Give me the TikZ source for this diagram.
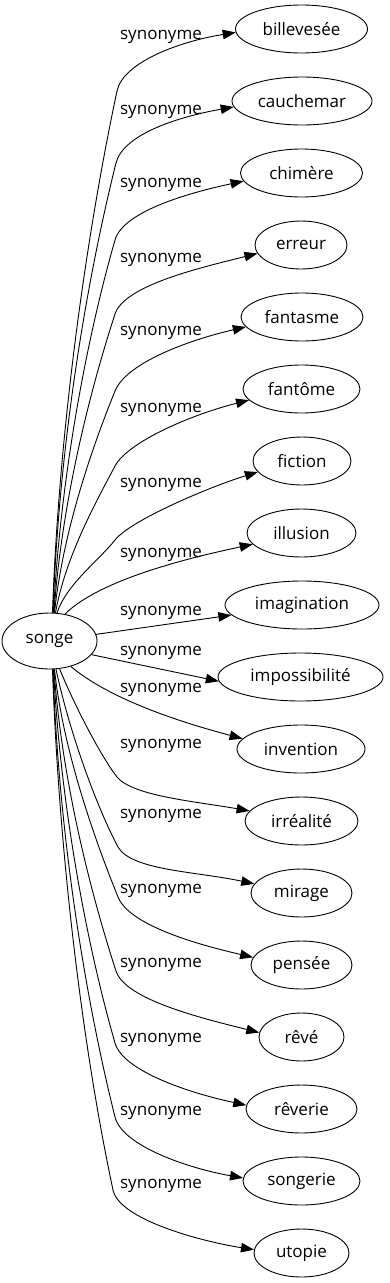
\documentclass[tikz,border=0pt]{standalone}
\usepackage{fontspec}
\setmainfont{Open Sans}
\usetikzlibrary{arrows.meta,shapes.geometric}
\begin{document}
\begin{tikzpicture}[x=1pt,y=1pt,
  word/.style={ellipse,draw,line width=0.9pt,inner sep=0pt,minimum height=48pt,font=\fontsize{17}{20}\selectfont},
  lbl/.style={anchor=base,inner sep=0pt,font=\fontsize{17}{20}\selectfont},
  edge/.style={line width=0.9pt,-{Triangle[length=13pt,width=9.5pt]}}]
\useasboundingbox (0,0) rectangle (389,-1283);
\node[word,minimum width=95pt,minimum height=56pt] (songe) at (49.5,-641) {songe};
\node[word,minimum width=132pt] (billevesee) at (301.5,-29) {billevesée};
\node[word,minimum width=140pt] (cauchemar) at (302,-101) {cauchemar};
\node[word,minimum width=122pt] (chimere) at (301.5,-173) {chimère};
\node[word,minimum width=92pt] (erreur) at (301,-245) {erreur};
\node[word,minimum width=122pt] (fantasme) at (302,-317) {fantasme};
\node[word,minimum width=117pt] (fantome) at (301.5,-389) {fantôme};
\node[word,minimum width=98pt] (fiction) at (302,-461) {fiction};
\node[word,minimum width=109pt] (illusion) at (301.5,-533) {illusion};
\node[word,minimum width=154pt] (imagination) at (302,-605) {imagination};
\node[word,minimum width=165pt] (impossibilite) at (300.5,-677) {impossibilité};
\node[word,minimum width=128pt] (invention) at (301,-749) {invention};
\node[word,minimum width=113pt] (irrealite) at (301.5,-821) {irréalité};
\node[word,minimum width=101pt] (mirage) at (301.5,-893) {mirage};
\node[word,minimum width=101pt] (pensee) at (301.5,-965) {pensée};
\node[word,minimum width=85pt] (reve) at (301.5,-1037) {rêvé};
\node[word,minimum width=111pt] (reverie) at (301.5,-1109) {rêverie};
\node[word,minimum width=117pt] (songerie) at (301.5,-1181) {songerie};
\node[word,minimum width=95pt] (utopie) at (301.5,-1253) {utopie};
\coordinate (k0) at (117,-91);
\coordinate (k1) at (116,-163);
\coordinate (k2) at (115,-240);
\coordinate (k3) at (115,-314);
\coordinate (k4) at (115,-391);
\coordinate (k5) at (115,-466);
\coordinate (k6) at (115,-540);
\coordinate (k11) at (117,-777);
\coordinate (k12) at (118,-847);
\coordinate (k13) at (118,-897);
\coordinate (k14) at (116,-971);
\coordinate (k15) at (115,-1043);
\coordinate (k16) at (115,-1117);
\coordinate (k17) at (113,-1190);
\draw[edge] (songe.84) .. controls +(88:180) and +(258:150) .. (k0) .. controls +(78:30) and +(189:55) .. (billevesee.183);
\draw[edge] (songe.83) .. controls +(88:160) and +(256:130) .. (k1) .. controls +(76:30) and +(190:55) .. (cauchemar.185);
\draw[edge] (songe.82) .. controls +(87:130) and +(254:110) .. (k2) .. controls +(74:30) and +(192:55) .. (chimere.188);
\draw[edge] (songe.81) .. controls +(86:105) and +(252:90) .. (k3) .. controls +(72:30) and +(194:60) .. (erreur.191);
\draw[edge] (songe.80) .. controls +(84:80) and +(248:65) .. (k4) .. controls +(68:30) and +(193:60) .. (fantasme.190);
\draw[edge] (songe.78) .. controls +(80:55) and +(242:45) .. (k5) .. controls +(62:27) and +(194:60) .. (fantome.192);
\draw[edge] (songe.75) .. controls +(72:30) and +(232:25) .. (k6) .. controls +(52:25) and +(197:50) .. (fiction.194);
\draw[edge] (songe.60) .. controls +(45:50) and +(192:60) .. (illusion.193);
\draw[edge] (songe) -- (imagination);
\draw[edge] (songe.-18) -- (impossibilite.183);
\draw[edge] (songe.-50) .. controls +(-40:55) and +(165:55) .. (invention.170);
\draw[edge] (songe.-70) .. controls +(-68:40) and +(128:25) .. (k11) .. controls +(-50:25) and +(170:55) .. (irrealite.169);
\draw[edge] (songe.-77) .. controls +(-78:65) and +(118:45) .. (k12) .. controls +(-60:27) and +(168:60) .. (mirage.169);
\draw[edge] (songe.-80) .. controls +(-84:80) and +(112:65) .. (k13) .. controls +(-68:30) and +(167:60) .. (pensee.171);
\draw[edge] (songe.-81) .. controls +(-86:105) and +(108:90) .. (k14) .. controls +(-72:30) and +(166:60) .. (reve.174);
\draw[edge] (songe.-82) .. controls +(-87:130) and +(106:110) .. (k15) .. controls +(-74:30) and +(168:55) .. (reverie.176);
\draw[edge] (songe.-83) .. controls +(-88:160) and +(104:130) .. (k16) .. controls +(-76:30) and +(170:55) .. (songerie.177);
\draw[edge] (songe.-84) .. controls +(-88:180) and +(102:150) .. (k17) .. controls +(-78:30) and +(171:55) .. (utopie.176);
\node[lbl] (l0) at (161,-39) {synonyme};
\node[lbl] (l1) at (161,-114) {synonyme};
\node[lbl] (l2) at (161,-187) {synonyme};
\node[lbl] (l3) at (161,-262) {synonyme};
\node[lbl] (l4) at (161,-335) {synonyme};
\node[lbl] (l5) at (161,-412) {synonyme};
\node[lbl] (l6) at (161,-487) {synonyme};
\node[lbl] (l7) at (161,-557) {synonyme};
\node[lbl] (l8) at (161,-615) {synonyme};
\node[lbl] (l9) at (161,-655) {synonyme};
\node[lbl] (l10) at (161,-692) {synonyme};
\node[lbl] (l11) at (161,-748) {synonyme};
\node[lbl] (l12) at (161,-818) {synonyme};
\node[lbl] (l13) at (161,-893) {synonyme};
\node[lbl] (l14) at (161,-967) {synonyme};
\node[lbl] (l15) at (161,-1042) {synonyme};
\node[lbl] (l16) at (161,-1115) {synonyme};
\node[lbl] (l17) at (161,-1188) {synonyme};
\end{tikzpicture}
\end{document}
